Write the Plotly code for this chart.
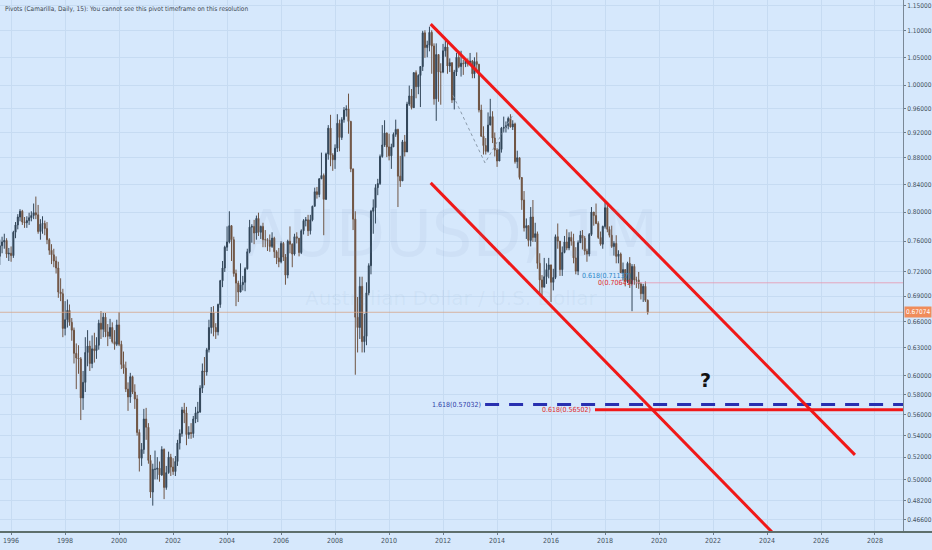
import numpy as np
import pandas as pd
import plotly.graph_objs as go

# monthly AUDUSD candles, Aug 1995 .. Aug 2019 (open = previous close)
first_open = 0.7400

close = [
    0.7540, 0.7590, 0.7610, 0.7430, 0.7440,
    0.7410, 0.7720, 0.7820, 0.7930, 0.8010, 0.7860, 0.7850, 0.7880, 0.7920, 0.7950, 0.7990, 0.7960,
    0.7730, 0.7830, 0.7840, 0.7770, 0.7620, 0.7480, 0.7420, 0.7340, 0.7250, 0.6950, 0.6930, 0.6520,
    0.6620, 0.6730, 0.6590, 0.6500, 0.6240, 0.6190, 0.6180, 0.5770, 0.5930, 0.6250, 0.6320, 0.6130,
    0.6290, 0.6270, 0.6330, 0.6580, 0.6510, 0.6650, 0.6480, 0.6430, 0.6530, 0.6370, 0.6340, 0.6560,
    0.6340, 0.6120, 0.6080, 0.5860, 0.5780, 0.5990, 0.5830, 0.5760, 0.5430, 0.5190, 0.5270, 0.5560,
    0.5480, 0.5170, 0.4890, 0.5090, 0.5090, 0.5100, 0.5040, 0.5270, 0.4930, 0.5060, 0.5200, 0.5110,
    0.5070, 0.5160, 0.5330, 0.5420, 0.5650, 0.5620, 0.5410, 0.5430, 0.5420, 0.5560, 0.5620, 0.5630,
    0.5870, 0.6050, 0.6040, 0.6280, 0.6530, 0.6700, 0.6530, 0.6480, 0.6800, 0.7090, 0.7250, 0.7520,
    0.7590, 0.7810, 0.7620, 0.7180, 0.7060, 0.6950, 0.7040, 0.7070, 0.7240, 0.7460, 0.7790, 0.7800,
    0.7710, 0.7910, 0.7720, 0.7800, 0.7620, 0.7620, 0.7610, 0.7530, 0.7640, 0.7460, 0.7380, 0.7330,
    0.7570, 0.7390, 0.7160, 0.7600, 0.7560, 0.7430, 0.7660, 0.7640, 0.7450, 0.7740, 0.7880, 0.7890,
    0.7740, 0.7890, 0.8080, 0.8290, 0.8250, 0.8480, 0.8530, 0.8180, 0.8860, 0.9270, 0.8840, 0.8770,
    0.8950, 0.9350, 0.9120, 0.9410, 0.9570, 0.9590, 0.9380, 0.8630, 0.7900, 0.6650, 0.6530, 0.7020,
    0.6370, 0.6430, 0.6940, 0.7280, 0.8010, 0.8060, 0.8350, 0.8410, 0.8820, 0.9000, 0.9190, 0.8970,
    0.8830, 0.8970, 0.9170, 0.9250, 0.8520, 0.8450, 0.9050, 0.8890, 0.9670, 0.9810, 0.9610, 1.0220,
    0.9970, 1.0170, 1.0330, 1.0960, 1.0680, 1.0730, 1.0970, 1.0710, 0.9760, 1.0550, 1.0230, 1.0230,
    1.0620, 1.0690, 1.0340, 1.0400, 0.9740, 1.0230, 1.0500, 1.0330, 1.0390, 1.0380, 1.0430, 1.0380,
    1.0430, 1.0200, 1.0420, 1.0370, 0.9570, 0.9140, 0.8990, 0.8900, 0.9320, 0.9460, 0.9110, 0.8920,
    0.8750, 0.8930, 0.9270, 0.9280, 0.9310, 0.9430, 0.9290, 0.9340, 0.8740, 0.8800, 0.8500, 0.8170,
    0.7780, 0.7810, 0.7610, 0.7930, 0.7650, 0.7700, 0.7310, 0.7100, 0.7010, 0.7140, 0.7230, 0.7290,
    0.7070, 0.7130, 0.7660, 0.7600, 0.7230, 0.7450, 0.7590, 0.7510, 0.7650, 0.7600, 0.7380, 0.7210,
    0.7580, 0.7680, 0.7640, 0.7470, 0.7430, 0.7690, 0.8000, 0.7950, 0.7840, 0.7650, 0.7560, 0.7800,
    0.8060, 0.7760, 0.7680, 0.7530, 0.7570, 0.7400, 0.7430, 0.7190, 0.7230, 0.7080, 0.7310, 0.7050,
    0.7270, 0.7100, 0.7100, 0.7050, 0.6930, 0.7020, 0.6850, 0.67074,
]

high = [
    0.7620, 0.7660, 0.7700, 0.7640, 0.7510,
    0.7530, 0.7740, 0.7860, 0.7970, 0.8040, 0.8030, 0.7930, 0.7940, 0.7990, 0.8010, 0.8120, 0.8220,
    0.8100, 0.7900, 0.7940, 0.7880, 0.7860, 0.7640, 0.7560, 0.7500, 0.7400, 0.7330, 0.7120, 0.6990,
    0.6840, 0.6860, 0.6800, 0.6640, 0.6530, 0.6350, 0.6330, 0.6200, 0.6050, 0.6420, 0.6500, 0.6380,
    0.6440, 0.6470, 0.6420, 0.6620, 0.6720, 0.6700, 0.6700, 0.6570, 0.6630, 0.6590, 0.6500, 0.6620,
    0.6710, 0.6380, 0.6260, 0.6150, 0.5930, 0.6030, 0.6000, 0.5910, 0.5800, 0.5460, 0.5330, 0.5660,
    0.5670, 0.5520, 0.5220, 0.5140, 0.5260, 0.5200, 0.5160, 0.5300, 0.5280, 0.5120, 0.5250, 0.5230,
    0.5190, 0.5210, 0.5360, 0.5460, 0.5680, 0.5720, 0.5680, 0.5490, 0.5520, 0.5590, 0.5680, 0.5730,
    0.5900, 0.6130, 0.6200, 0.6300, 0.6620, 0.6770, 0.6780, 0.6580, 0.6810, 0.7100, 0.7340, 0.7540,
    0.7800, 0.8010, 0.7800, 0.7660, 0.7230, 0.7090, 0.7310, 0.7150, 0.7260, 0.7500, 0.7890, 0.7830,
    0.7890, 0.7950, 0.7990, 0.7810, 0.7850, 0.7750, 0.7640, 0.7690, 0.7720, 0.7660, 0.7480, 0.7510,
    0.7600, 0.7590, 0.7430, 0.7620, 0.7800, 0.7570, 0.7700, 0.7720, 0.7640, 0.7760, 0.7900, 0.7930,
    0.7960, 0.7960, 0.8090, 0.8350, 0.8360, 0.8490, 0.8880, 0.8560, 0.8880, 0.9320, 0.9490, 0.8870,
    0.9010, 0.9500, 0.9410, 0.9450, 0.9620, 0.9650, 0.9850, 0.9390, 0.8630, 0.8010, 0.6890, 0.7140,
    0.7140, 0.6690, 0.7070, 0.7310, 0.8030, 0.8180, 0.8400, 0.8480, 0.8850, 0.9320, 0.9400, 0.9200,
    0.9180, 0.9020, 0.9200, 0.9410, 0.9260, 0.8830, 0.9080, 0.9160, 0.9710, 0.9990, 0.9930, 1.0230,
    1.0260, 1.0190, 1.0340, 1.1000, 1.1010, 1.0810, 1.1080, 1.1010, 1.0760, 1.0760, 1.0550, 1.0390,
    1.0750, 1.0860, 1.0820, 1.0480, 1.0390, 1.0270, 1.0580, 1.0620, 1.0620, 1.0450, 1.0470, 1.0480,
    1.0580, 1.0450, 1.0500, 1.0590, 1.0380, 0.9660, 0.9300, 0.9110, 0.9530, 0.9760, 0.9550, 0.9200,
    0.8950, 0.9050, 0.9290, 0.9460, 0.9380, 0.9460, 0.9500, 0.9400, 0.9360, 0.8910, 0.8800, 0.8480,
    0.8300, 0.7910, 0.7740, 0.8070, 0.8170, 0.7850, 0.7730, 0.7440, 0.7160, 0.7380, 0.7310, 0.7380,
    0.7280, 0.7240, 0.7690, 0.7840, 0.7590, 0.7530, 0.7670, 0.7760, 0.7720, 0.7730, 0.7700, 0.7520,
    0.7610, 0.7740, 0.7750, 0.7670, 0.7500, 0.7710, 0.8070, 0.7990, 0.8120, 0.7870, 0.7730, 0.7810,
    0.8140, 0.8100, 0.7800, 0.7810, 0.7600, 0.7680, 0.7480, 0.7450, 0.7320, 0.7230, 0.7330, 0.7390,
    0.7300, 0.7300, 0.7140, 0.7200, 0.7070, 0.7050, 0.7080, 0.6860,
]

low = [
    0.7290, 0.7440, 0.7500, 0.7380, 0.7340,
    0.7330, 0.7380, 0.7640, 0.7760, 0.7870, 0.7820, 0.7780, 0.7780, 0.7820, 0.7870, 0.7900, 0.7900,
    0.7700, 0.7620, 0.7700, 0.7680, 0.7560, 0.7420, 0.7300, 0.7260, 0.7180, 0.6880, 0.6840, 0.6420,
    0.6440, 0.6530, 0.6550, 0.6380, 0.6130, 0.5860, 0.6020, 0.5550, 0.5650, 0.5830, 0.6100, 0.6050,
    0.6080, 0.6140, 0.6180, 0.6280, 0.6400, 0.6420, 0.6420, 0.6320, 0.6400, 0.6350, 0.6280, 0.6320,
    0.6320, 0.6070, 0.6020, 0.5830, 0.5640, 0.5720, 0.5810, 0.5660, 0.5400, 0.5070, 0.5120, 0.5230,
    0.5360, 0.5140, 0.4840, 0.4775, 0.5000, 0.5000, 0.4980, 0.5030, 0.4830, 0.4910, 0.5050, 0.5030,
    0.5040, 0.5030, 0.5120, 0.5270, 0.5390, 0.5520, 0.5310, 0.5370, 0.5370, 0.5380, 0.5520, 0.5530,
    0.5620, 0.5820, 0.5900, 0.6000, 0.6250, 0.6460, 0.6430, 0.6400, 0.6440, 0.6760, 0.7010, 0.7200,
    0.7470, 0.7570, 0.7340, 0.7140, 0.6780, 0.6830, 0.6960, 0.6970, 0.6960, 0.7230, 0.7440, 0.7580,
    0.7560, 0.7620, 0.7670, 0.7630, 0.7520, 0.7520, 0.7470, 0.7460, 0.7510, 0.7380, 0.7300, 0.7260,
    0.7310, 0.7340, 0.7040, 0.7120, 0.7440, 0.7260, 0.7410, 0.7570, 0.7400, 0.7430, 0.7690, 0.7800,
    0.7670, 0.7690, 0.7870, 0.8080, 0.8190, 0.8210, 0.8480, 0.7680, 0.8170, 0.8770, 0.8670, 0.8600,
    0.8630, 0.8890, 0.8900, 0.9080, 0.9360, 0.9460, 0.9180, 0.8580, 0.7750, 0.6010, 0.6250, 0.6400,
    0.6250, 0.6250, 0.6330, 0.6910, 0.7170, 0.7700, 0.7840, 0.8240, 0.8390, 0.8800, 0.8970, 0.8810,
    0.8760, 0.8630, 0.9020, 0.9130, 0.8070, 0.8360, 0.8540, 0.8820, 0.8900, 0.9640, 0.9580, 0.9620,
    0.9770, 0.9840, 0.9620, 1.0250, 1.0490, 1.0500, 1.0610, 1.0200, 0.9660, 0.9390, 0.9710, 0.9660,
    1.0210, 1.0510, 1.0200, 1.0230, 0.9690, 0.9580, 1.0160, 1.0300, 1.0150, 1.0180, 1.0320, 1.0330,
    1.0370, 1.0120, 1.0120, 1.0260, 0.9530, 0.9130, 0.8850, 0.8850, 0.8880, 0.9360, 0.9030, 0.8820,
    0.8660, 0.8860, 0.8880, 0.9200, 0.9200, 0.9250, 0.9280, 0.9240, 0.8710, 0.8640, 0.8470, 0.8030,
    0.7730, 0.7630, 0.7530, 0.7530, 0.7590, 0.7590, 0.7240, 0.6900, 0.6910, 0.7010, 0.7050, 0.7120,
    0.6830, 0.6970, 0.7110, 0.7500, 0.7150, 0.7150, 0.7440, 0.7480, 0.7480, 0.7540, 0.7310, 0.7170,
    0.7160, 0.7580, 0.7490, 0.7420, 0.7330, 0.7400, 0.7670, 0.7810, 0.7830, 0.7630, 0.7540, 0.7500,
    0.7770, 0.7720, 0.7650, 0.7510, 0.7410, 0.7310, 0.7310, 0.7200, 0.7090, 0.7020, 0.7060, 0.7000,
    0.6720, 0.7040, 0.7000, 0.6990, 0.6860, 0.6830, 0.6830, 0.6680,
]

# drawing tools on the chart (anchor dates / prices)
upper_x = ["2011-07-18", "2027-04-05"]
upper_y = [1.113, 0.522]
lower_x = ["2011-07-18", "2024-11-06"]
lower_y = [0.842, 0.4414]
fib_red_x = ["2017-08-18", "2029-06-01"]
fib_red_y = [0.56502, 0.56502]
fib_blue_x = ["2013-07-23", "2029-06-01"]
fib_blue_y = [0.57032, 0.57032]
pivot_x = ["2019-02-10", "2029-06-01"]
pivot_y = [0.70641, 0.70641]
swing_x = ["2012-05-15", "2013-07-22", "2014-08-04"]
swing_y = [0.982, 0.872, 0.949]
last_price = 0.67074

yticks = [1.15, 1.10, 1.05, 1.00, 0.96, 0.92, 0.88, 0.84, 0.80, 0.76, 0.72,
          0.69, 0.66, 0.63, 0.60, 0.58, 0.56, 0.54, 0.52, 0.50, 0.482, 0.466]

dates = pd.date_range("1995-08-01", periods=len(close), freq="MS")
opens = [first_open] + close[:-1]

FONT = "Liberation Sans Narrow, DejaVu Sans Condensed, sans-serif"
BG = "#d6e8fc"
GRID = "#c6dbf2"

fig = go.Figure()

# last price line
fig.add_trace(go.Scatter(x=["1990-01-01", "2030-01-01"], y=[last_price, last_price],
                         mode="lines", line=dict(color="rgba(214,160,130,0.75)", width=1),
                         hoverinfo="skip", showlegend=False))

fig.add_trace(go.Candlestick(
    x=dates, open=opens, high=high, low=low, close=close,
    increasing=dict(line=dict(color="#33475a", width=1), fillcolor="#24384b"),
    decreasing=dict(line=dict(color="#6f5443", width=1), fillcolor="#6e4a35"),
    showlegend=False))

fig.add_trace(go.Scatter(x=swing_x, y=swing_y, mode="lines",
                         line=dict(color="#8a9aab", width=1, dash="dot"),
                         hoverinfo="skip", showlegend=False))
fig.add_trace(go.Scatter(x=pivot_x, y=pivot_y, mode="lines",
                         line=dict(color="rgba(232,150,175,0.8)", width=1),
                         hoverinfo="skip", showlegend=False))
fig.add_trace(go.Scatter(x=fib_blue_x, y=fib_blue_y, mode="lines",
                         line=dict(color="#2830b0", width=3, dash="14px,10px"),
                         hoverinfo="skip", showlegend=False))
fig.add_trace(go.Scatter(x=fib_red_x, y=fib_red_y, mode="lines",
                         line=dict(color="#f01818", width=3),
                         hoverinfo="skip", showlegend=False))
for xs, ys in [(upper_x, upper_y), (lower_x, lower_y)]:
    fig.add_trace(go.Scatter(x=xs, y=ys, mode="lines",
                             line=dict(color="#f01818", width=3),
                             hoverinfo="skip", showlegend=False))

ann = [
    # watermark
    dict(x=0.5, y=0.56, xref="paper", yref="paper", text="AUDUSD, 1M", showarrow=False,
         font=dict(size=64, color="rgba(110,140,175,0.08)", family="DejaVu Sans")),
    dict(x=0.5, y=0.44, xref="paper", yref="paper", text="Australian Dollar / U.S. Dollar",
         showarrow=False, font=dict(size=20, color="rgba(110,140,175,0.08)", family="DejaVu Sans")),
    dict(x=0, y=1, xref="paper", yref="paper", xanchor="left", yanchor="top", xshift=3, yshift=-3,
         text="Pivots (Camarilla, Daily, 15): You cannot see this pivot timeframe on this resolution",
         showarrow=False, font=dict(size=6.5, color="#3c4650", family=FONT)),
    dict(x="2013-06-25", y=np.log10(fib_blue_y[0]), xanchor="right", yanchor="middle",
         text="1.618(0.57032)", showarrow=False, font=dict(size=7, color="#3040a8", family=FONT)),
    dict(x="2017-07-22", y=np.log10(fib_red_y[0]), xanchor="right", yanchor="middle",
         text="0.618(0.56502)", showarrow=False, font=dict(size=7, color="#e02828", family=FONT)),
    dict(x="2019-01-15", y=np.log10(0.7150), xanchor="right", yanchor="middle",
         text="0.618(0.71137)", showarrow=False, font=dict(size=7, color="#2a86c8", family=FONT)),
    dict(x="2019-02-10", y=np.log10(pivot_y[0]), xanchor="right", yanchor="middle",
         text="0(0.70641)", showarrow=False, font=dict(size=7, color="#e02828", family=FONT)),
    dict(x="2021-09-27", y=np.log10(0.5955), text="<b>?</b>", showarrow=False,
         font=dict(size=19, color="#111111", family="DejaVu Sans")),
    dict(x=1, y=np.log10(last_price), xref="paper", xanchor="left", yanchor="middle", xshift=1,
         text="0.67074", showarrow=False, bgcolor="#f08c5a", borderpad=1,
         font=dict(size=6.5, color="white", family=FONT)),
]

fig.update_layout(
    width=932, height=550,
    margin=dict(l=0, r=29, t=0, b=18, autoexpand=False),
    paper_bgcolor=BG, plot_bgcolor=BG,
    showlegend=False,
    annotations=ann,
    shapes=[dict(type="line", xref="paper", yref="paper", x0=0, x1=1.04, y0=0, y1=0,
                 line=dict(color="#5e6f6c", width=2))],
    xaxis=dict(type="date", range=["1995-08-04", "2029-01-14"],
               rangeslider=dict(visible=False), automargin=False,
               tick0="1996-01-01", dtick="M24", tickformat="%Y",
               showgrid=True, gridcolor=GRID, zeroline=False,
               ticks="outside", ticklen=2, tickcolor="#6b7b8b",
               tickfont=dict(size=7, color="#45525e", family=FONT)),
    yaxis=dict(type="log", side="right", automargin=False,
               range=[np.log10(0.45587), np.log10(1.16118)],
               tickvals=yticks, ticktext=["%.5f" % v for v in yticks],
               showgrid=True, gridcolor=GRID, zeroline=False,
               showline=True, linecolor="#7a8896", linewidth=1,
               ticks="outside", ticklen=2, tickcolor="#6b7b8b",
               tickfont=dict(size=6.5, color="#45525e", family=FONT)),
)

# page body has a default 8px margin; drop it so the chart fills the window
fig.write_html("out.html", config={"displayModeBar": False},
               post_script="document.body.style.margin='0';document.body.style.background='%s';" % BG)
